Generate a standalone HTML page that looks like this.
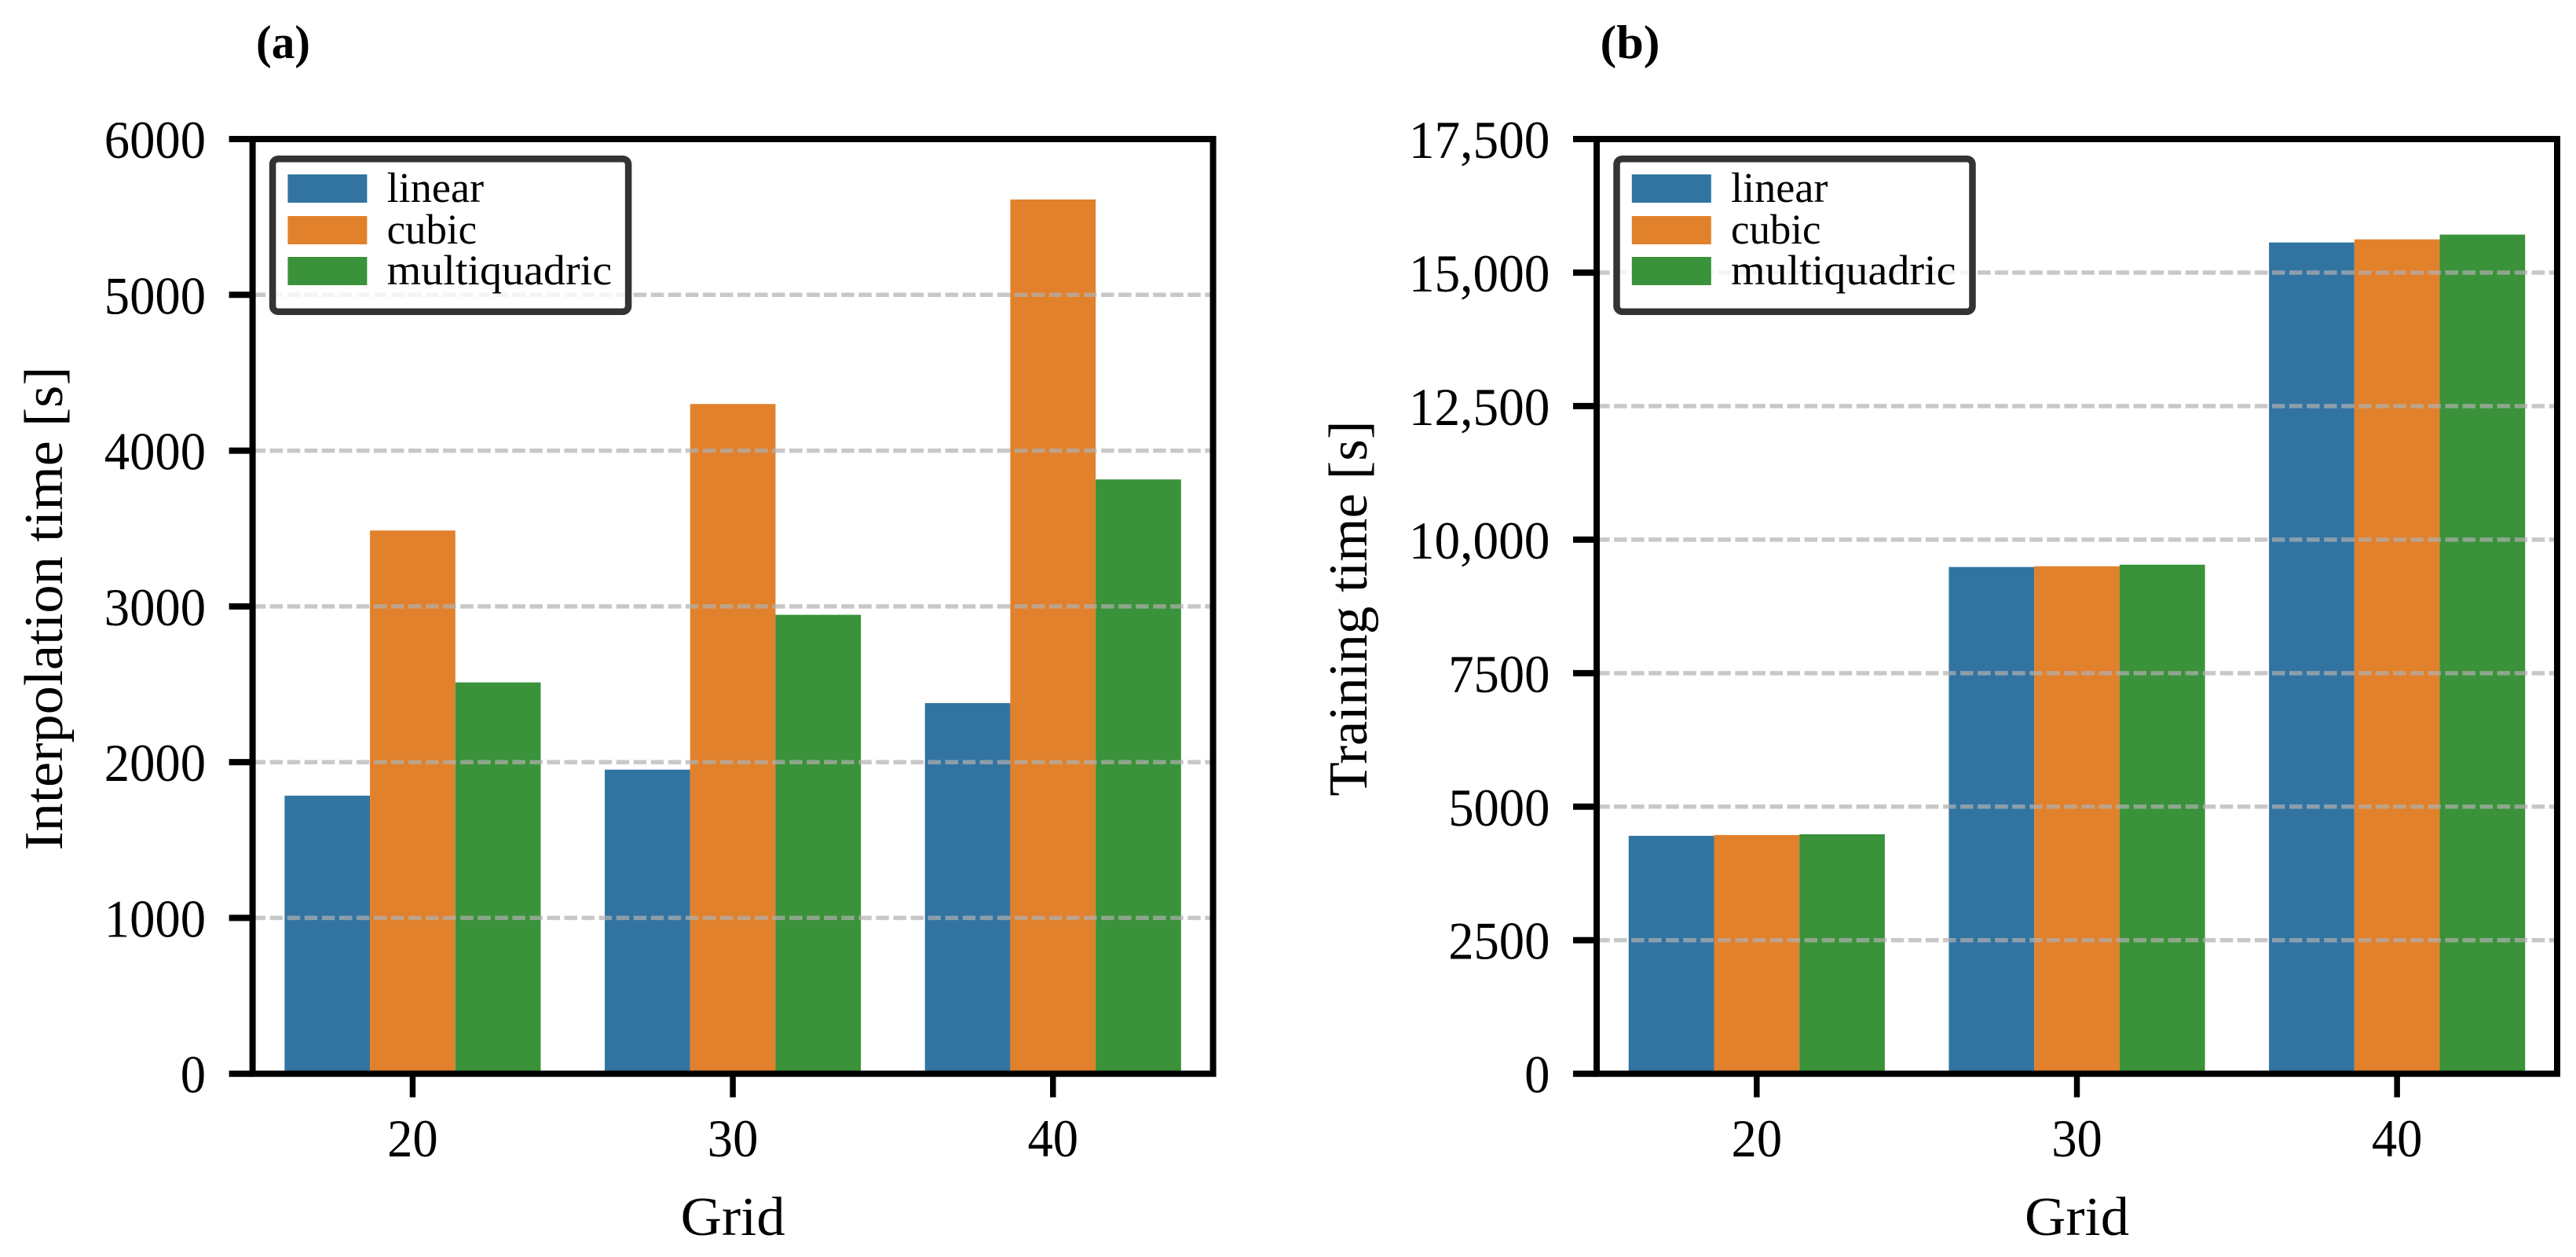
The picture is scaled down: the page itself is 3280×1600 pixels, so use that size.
<!DOCTYPE html>
<html lang="en">
<head>
<meta charset="utf-8">
<title>Interpolation and training time by grid</title>
<style>
html,body{margin:0;padding:0;background:#fff;width:3280px;height:1600px;overflow:hidden}
svg{display:block}
text{font-family:"Liberation Serif",serif;fill:#000}
</style>
</head>
<body>
<svg id="figure" xmlns="http://www.w3.org/2000/svg" width="3280" height="1600" viewBox="0 0 3280 1600"></svg>
<script>
const categories = ['20', '30', '40'];
const seriesNames = ['linear', 'cubic', 'multiquadric'];
const seriesColors = ['#3274a1', '#e1812c', '#3a923a'];

const interpLinear = [1785, 1952, 2379];
const interpCubic = [3487, 4299, 5612];
const interpMultiquadric = [2512, 2946, 3815];
const interpTicks = [0, 1000, 2000, 3000, 4000, 5000, 6000];
const interpTickLabels = ['0', '1000', '2000', '3000', '4000', '5000', '6000'];

const trainLinear = [4454, 9487, 15564];
const trainCubic = [4469, 9501, 15622];
const trainMultiquadric = [4484, 9531, 15711];
const trainTicks = [0, 2500, 5000, 7500, 10000, 12500, 15000, 17500];
const trainTickLabels = ['0', '2500', '5000', '7500', '10,000', '12,500', '15,000', '17,500'];

const svg = document.getElementById('figure');
const NS = 'http://www.w3.org/2000/svg';
const plotTop = 177;
const plotBottom = 1366.7;
const plotWidth = 1223;

function make(parent, tag, attrs, content) {
  const el = document.createElementNS(NS, tag);
  for (const k in attrs) el.setAttribute(k, attrs[k]);
  if (content !== undefined) el.textContent = content;
  parent.appendChild(el);
  return el;
}
function tickTextWidth(s) {
  let w = 0;
  for (const c of s) w += (c === ',') ? 18 : 32.3;
  return w;
}

function drawPanel(p) {
  const left = p.left;
  const right = left + plotWidth;
  const xStep = plotWidth / p.categories.length;
  const barW = xStep * 0.8 / p.series.length;
  const xCenter = i => left + (i + 0.5) * xStep;
  const yScale = v => plotBottom - (v / p.yMax) * (plotBottom - plotTop);

  const g = make(svg, 'g', {});
  
  

  // bars
  p.series.forEach((vals, s) => {
    vals.forEach((v, i) => {
      const bar = make(g, 'rect', {
        x: xCenter(i) + (s - p.series.length / 2) * barW,
        y: yScale(v),
        width: barW,
        height: plotBottom - yScale(v),
        fill: seriesColors[s]
      });
      
      
    });
  });

  // grid lines and y ticks
  p.ticks.forEach((t, i) => {
    const y = yScale(t);
    if (t > 0 && t < p.yMax) {
      const gl = make(g, 'line', {
        x1: left, x2: right, y1: y, y2: y,
        stroke: '#b0b0b0', 'stroke-opacity': 0.7, 'stroke-width': 5.5,
        'stroke-dasharray': '16.5 5.55'
      });
      
      
    }
    const tick = make(g, 'line', {
      x1: left - 30, x2: left, y1: y, y2: y,
      stroke: '#000', 'stroke-width': 8
    });
    
    
    const label = make(g, 'text', {
      x: left - 59.6, y: y + 24,
      'text-anchor': 'end', 'font-size': 68,
      textLength: tickTextWidth(p.tickLabels[i]),
      lengthAdjust: 'spacingAndGlyphs'
    }, p.tickLabels[i]);
    
    
  });

  // x ticks
  p.categories.forEach((c, i) => {
    const x = xCenter(i);
    const tick = make(g, 'line', {
      x1: x, x2: x, y1: plotBottom, y2: plotBottom + 30,
      stroke: '#000', 'stroke-width': 7.5
    });
    
    
    const label = make(g, 'text', {
      x: x, y: 1472,
      'text-anchor': 'middle', 'font-size': 68,
      textLength: 64.6, lengthAdjust: 'spacingAndGlyphs'
    }, c);
    
    
  });

  // legend
  const legend = make(g, 'g', {});
  
  
  const frame = make(legend, 'rect', {
    x: left + 25.5, y: 202.2, width: 453, height: 194.5, rx: 7,
    fill: '#fff', 'fill-opacity': 0.8, stroke: '#333', 'stroke-width': 8.5
  });
  
  
  const swatchY = [222, 275, 327];
  const textY = [257, 310, 362];
  const textW = [123.5, 114.5, 286.5];
  seriesNames.forEach((n, s) => {
    const sw = make(legend, 'rect', {
      x: left + 44.8, y: swatchY[s], width: 101, height: 36, fill: seriesColors[s]
    });
    
    
    const tx = make(legend, 'text', {
      x: left + 171, y: textY[s], 'font-size': 54,
      textLength: textW[s], lengthAdjust: 'spacingAndGlyphs'
    }, n);
    
    
  });

  // spines
  const spine = make(g, 'rect', {
    x: left, y: plotTop, width: plotWidth, height: plotBottom - plotTop,
    fill: 'none', stroke: '#000', 'stroke-width': 8
  });
  
  

  // axis titles
  const xTitle = make(g, 'text', {
    x: left + plotWidth / 2, y: 1572,
    'text-anchor': 'middle', 'font-size': 70,
    textLength: 133, lengthAdjust: 'spacingAndGlyphs'
  }, 'Grid');
  
  
  const yTitle = make(g, 'text', {
    transform: 'translate(' + p.yTitleX + ',774.5) rotate(-90)',
    'text-anchor': 'middle', 'font-size': 70,
    textLength: p.yTitleLen, lengthAdjust: 'spacingAndGlyphs'
  }, p.yTitle);
  
  

  // panel letter
  const letter = make(g, 'text', {
    x: p.letterX, y: 74, 'font-size': 60, 'font-weight': 'bold',
    textLength: p.letterW, lengthAdjust: 'spacingAndGlyphs'
  }, p.letter);
  
  
}

drawPanel({
  name: 'panel-interpolation-time', left: 321.6, yMax: 6000,
  categories: categories,
  series: [interpLinear, interpCubic, interpMultiquadric],
  ticks: interpTicks, tickLabels: interpTickLabels,
  yTitle: 'Interpolation time [s]', yTitleX: 79, yTitleLen: 616,
  letter: '(a)', letterX: 326, letterW: 69
});
drawPanel({
  name: 'panel-training-time', left: 2033, yMax: 17500,
  categories: categories,
  series: [trainLinear, trainCubic, trainMultiquadric],
  ticks: trainTicks, tickLabels: trainTickLabels,
  yTitle: 'Training time [s]', yTitleX: 1740, yTitleLen: 478,
  letter: '(b)', letterX: 2037.5, letterW: 76
});
</script>
</body>
</html>
